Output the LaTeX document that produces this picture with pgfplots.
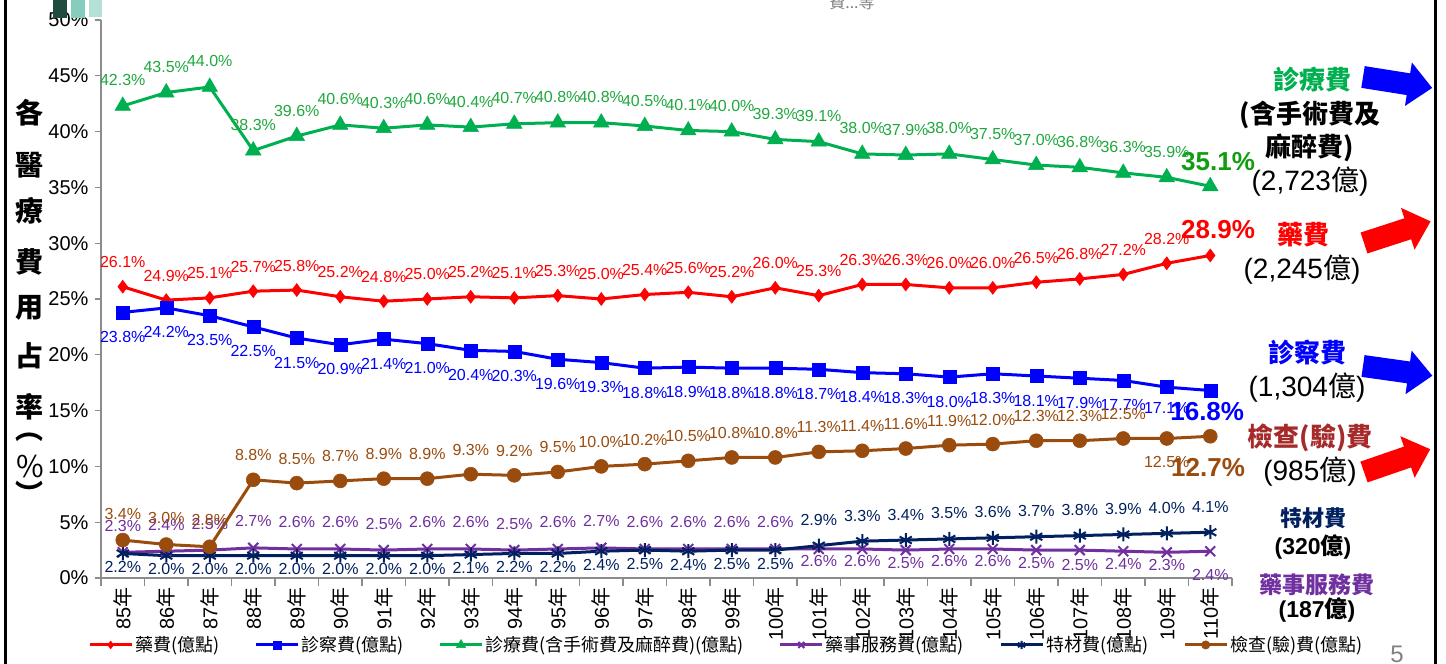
\documentclass[border=0pt]{standalone}
\usepackage{fontspec}
\setmainfont{Liberation Sans}
\newfontfamily\cjk{Noto Sans CJK TC}
\usepackage{pgfplots}
\usepackage{pgfplotstable}
\pgfplotsset{compat=1.18}

\definecolor{cRed}{HTML}{FF0000}
\definecolor{cBlue}{HTML}{0000FF}
\definecolor{cGreen}{HTML}{00B050}
\definecolor{cGreenL}{HTML}{1FA83E}
\definecolor{cGreenB}{HTML}{109E10}
\definecolor{cPurple}{HTML}{7030A0}
\definecolor{cNavy}{HTML}{002060}
\definecolor{cBrown}{HTML}{9A4C0E}
\definecolor{cMaroon}{HTML}{A52A2A}
\definecolor{cAxis}{HTML}{8C8C8C}
\definecolor{cGray}{HTML}{808080}
\definecolor{sqA}{HTML}{1E4D40}
\definecolor{sqB}{HTML}{86CDBE}
\definecolor{sqC}{HTML}{B4E1D6}

\newcommand{\fs}[1]{\fontsize{#1}{#1}\selectfont}
\newcommand{\barrow}[4]{%
  \begin{scope}[shift={(#1pt,#2pt)}, rotate=#3]
  \fill[#4] (0pt,-11pt) -- (46pt,-11pt) -- (46pt,-22pt) -- (70pt,0pt) -- (46pt,22pt) -- (46pt,11pt) -- (0pt,11pt) -- cycle;
  \end{scope}}

\pgfplotstableread{
x y dy lab
0 26.1 19 26.1\%
1 24.9 19 24.9\%
2 25.1 19 25.1\%
3 25.7 19 25.7\%
4 25.8 19 25.8\%
5 25.2 19 25.2\%
6 24.8 19 24.8\%
7 25.0 19 25.0\%
8 25.2 19 25.2\%
9 25.1 19 25.1\%
10 25.3 19 25.3\%
11 25.0 19 25.0\%
12 25.4 19 25.4\%
13 25.6 19 25.6\%
14 25.2 19 25.2\%
15 26.0 19 26.0\%
16 25.3 19 25.3\%
17 26.3 19 26.3\%
18 26.3 19 26.3\%
19 26.0 19 26.0\%
20 26.0 19 26.0\%
21 26.5 19 26.5\%
22 26.8 19 26.8\%
23 27.2 19 27.2\%
24 28.2 19 28.2\%
25 28.9 19 {}
}\tRed

\pgfplotstableread{
x y dy lab
0 23.8 -30 23.8\%
1 24.2 -30 24.2\%
2 23.5 -30 23.5\%
3 22.5 -30 22.5\%
4 21.5 -30 21.5\%
5 20.9 -30 20.9\%
6 21.4 -30 21.4\%
7 21.0 -30 21.0\%
8 20.4 -30 20.4\%
9 20.3 -30 20.3\%
10 19.6 -30 19.6\%
11 19.3 -30 19.3\%
12 18.8 -30 18.8\%
13 18.9 -30 18.9\%
14 18.8 -30 18.8\%
15 18.8 -30 18.8\%
16 18.7 -30 18.7\%
17 18.4 -30 18.4\%
18 18.3 -30 18.3\%
19 18.0 -30 18.0\%
20 18.3 -30 18.3\%
21 18.1 -30 18.1\%
22 17.9 -30 17.9\%
23 17.7 -30 17.7\%
24 17.1 -26 17.1\%
25 16.8 -30 {}
}\tBlue

\pgfplotstableread{
x y dy lab
0 42.3 20 42.3\%
1 43.5 20 43.5\%
2 44.0 20 44.0\%
3 38.3 20 38.3\%
4 39.6 20 39.6\%
5 40.6 20 40.6\%
6 40.3 20 40.3\%
7 40.6 20 40.6\%
8 40.4 20 40.4\%
9 40.7 20 40.7\%
10 40.8 20 40.8\%
11 40.8 20 40.8\%
12 40.5 20 40.5\%
13 40.1 20 40.1\%
14 40.0 20 40.0\%
15 39.3 20 39.3\%
16 39.1 20 39.1\%
17 38.0 20 38.0\%
18 37.9 20 37.9\%
19 38.0 20 38.0\%
20 37.5 20 37.5\%
21 37.0 20 37.0\%
22 36.8 20 36.8\%
23 36.3 20 36.3\%
24 35.9 20 35.9\%
25 35.1 20 {}
}\tGreen

\pgfplotstableread{
x y dy lab
0 2.3 21 2.3\%
1 2.4 21 2.4\%
2 2.5 21 2.5\%
3 2.7 21 2.7\%
4 2.6 21 2.6\%
5 2.6 21 2.6\%
6 2.5 21 2.5\%
7 2.6 21 2.6\%
8 2.6 21 2.6\%
9 2.5 21 2.5\%
10 2.6 21 2.6\%
11 2.7 21 2.7\%
12 2.6 21 2.6\%
13 2.6 21 2.6\%
14 2.6 21 2.6\%
15 2.6 21 2.6\%
16 2.6 -18 2.6\%
17 2.6 -18 2.6\%
18 2.5 -18 2.5\%
19 2.6 -18 2.6\%
20 2.6 -18 2.6\%
21 2.5 -18 2.5\%
22 2.5 -20 2.5\%
23 2.4 -18 2.4\%
24 2.3 -18 2.3\%
25 2.4 -29 2.4\%
}\tPurple

\pgfplotstableread{
x y dy lab
0 2.2 -19 2.2\%
1 2.0 -19 2.0\%
2 2.0 -19 2.0\%
3 2.0 -19 2.0\%
4 2.0 -19 2.0\%
5 2.0 -19 2.0\%
6 2.0 -19 2.0\%
7 2.0 -19 2.0\%
8 2.1 -19 2.1\%
9 2.2 -19 2.2\%
10 2.2 -19 2.2\%
11 2.4 -19 2.4\%
12 2.5 -19 2.5\%
13 2.4 -19 2.4\%
14 2.5 -19 2.5\%
15 2.5 -19 2.5\%
16 2.9 20 2.9\%
17 3.3 20 3.3\%
18 3.4 20 3.4\%
19 3.5 20 3.5\%
20 3.6 20 3.6\%
21 3.7 20 3.7\%
22 3.8 20 3.8\%
23 3.9 20 3.9\%
24 4.0 20 4.0\%
25 4.1 20 4.1\%
}\tNavy

\pgfplotstableread{
x y dy lab
0 3.4 21 3.4\%
1 3.0 21 3.0\%
2 2.8 21 2.8\%
3 8.8 19 8.8\%
4 8.5 19 8.5\%
5 8.7 19 8.7\%
6 8.9 19 8.9\%
7 8.9 19 8.9\%
8 9.3 19 9.3\%
9 9.2 19 9.2\%
10 9.5 19 9.5\%
11 10.0 19 10.0\%
12 10.2 19 10.2\%
13 10.5 19 10.5\%
14 10.8 19 10.8\%
15 10.8 19 10.8\%
16 11.3 19 11.3\%
17 11.4 19 11.4\%
18 11.6 19 11.6\%
19 11.9 19 11.9\%
20 12.0 19 12.0\%
21 12.3 19 12.3\%
22 12.3 19 12.3\%
23 12.5 19 12.5\%
24 12.5 -29 12.5\%
25 12.7 -29 {}
}\tBrown

\begin{document}
\begin{tikzpicture}
\useasboundingbox (0pt,0pt) rectangle (1446pt,664pt);
\fill[white] (0pt,0pt) rectangle (1446pt,664pt);

\begin{axis}[
  at={(101pt,86pt)}, anchor=south west,
  scale only axis, width=1131pt, height=558pt,
  xmin=-0.5, xmax=25.5, ymin=0, ymax=50,
  clip=false,
  axis x line*=bottom, axis y line*=left,
  axis line style={cAxis, line width=1.6pt},
  xtick={0,...,25},
  xticklabel={\pgfmathtruncatemacro\yy{\tick+85}\yy{\cjk 年}},
  xticklabel style={rotate=90, anchor=east, font=\fs{20}},
  major x tick style={draw=none},
  minor xtick={-0.5,0.5,...,25.5},
  minor x tick style={cAxis, line width=1.2pt},
  ytick={0,5,...,50},
  yticklabels={0\%,5\%,10\%,15\%,20\%,25\%,30\%,35\%,40\%,45\%,50\%},
  yticklabel style={font=\fs{20}, xshift=-3pt},
  y tick style={cAxis, line width=1.2pt},
  tick align=outside, major tick length=6pt, minor tick length=8pt,
  every axis plot/.append style={line width=3pt},
  nodes near coords={\pgfplotspointmeta},
  point meta=explicit symbolic,
  visualization depends on={\thisrow{dy}\as\dy},
  legend columns=6,
  legend style={at={(-0.0115,-0.12)}, anchor=west, draw=none, fill=none,
    inner sep=0pt, font=\cjk\fs{18},
    /tikz/every even column/.append style={column sep=33pt}},
  legend image code/.code={\draw[mark repeat=2,mark phase=2,#1,every mark/.append style={scale=0.6}] plot coordinates {(0pt,0pt) (21pt,0pt) (42pt,0pt)};},
]
\addplot[cRed, mark=diamond*, mark size=6.5pt, mark options={solid,line width=0.5pt},
  every node near coord/.append style={anchor=base, inner sep=0pt, yshift=\dy pt, text=cRed, font=\fs{16}}]
  table[x=x,y=y,meta=lab]{\tRed};
\addlegendentry{藥費(億點)}
\addplot[cBlue, mark=square*, mark size=6.5pt, mark options={solid,line width=0.5pt},
  every node near coord/.append style={anchor=base, inner sep=0pt, yshift=\dy pt, text=cBlue, font=\fs{16}}]
  table[x=x,y=y,meta=lab]{\tBlue};
\addlegendentry{診察費(億點)}
\addplot[cGreen, mark=triangle*, mark size=9pt, mark options={solid,line width=0.5pt},
  every node near coord/.append style={anchor=base, inner sep=0pt, yshift=\dy pt, text=cGreenL, font=\fs{16}}]
  table[x=x,y=y,meta=lab]{\tGreen};
\addlegendentry{診療費(含手術費及麻醉費)(億點)}
\addplot[cPurple, mark=x, mark size=7pt, mark options={solid,line width=2pt},
  every node near coord/.append style={anchor=base, inner sep=0pt, yshift=\dy pt, text=cPurple, font=\fs{16}}]
  table[x=x,y=y,meta=lab]{\tPurple};
\addlegendentry{藥事服務費(億點)}
\addplot[cNavy, mark=asterisk, mark size=7pt, mark options={solid,line width=2pt},
  every node near coord/.append style={anchor=base, inner sep=0pt, yshift=\dy pt, text=cNavy, font=\fs{16}}]
  table[x=x,y=y,meta=lab]{\tNavy};
\addlegendentry{特材費(億點)}
\addplot[cBrown, mark=*, mark size=7pt, mark options={solid,line width=0.5pt},
  every node near coord/.append style={anchor=base, inner sep=0pt, yshift=\dy pt, text=cBrown, font=\fs{16}}]
  table[x=x,y=y,meta=lab]{\tBrown};
\addlegendentry{檢查(驗)費(億點)}

\node[text=cGreenB, font=\bfseries\fs{26}] at (axis cs:25.18,37.3) {35.1\%};
\node[text=cRed, font=\bfseries\fs{26}] at (axis cs:25.18,31.2) {28.9\%};
\node[text=cBlue, font=\bfseries\fs{26}] at (axis cs:24.93,14.9) {16.8\%};
\node[text=cBrown, font=\bfseries\fs{26}] at (axis cs:24.95,9.86) {12.7\%};
\end{axis}

% decorations
\fill[sqA] (53pt,646pt) rectangle (67pt,664pt);
\fill[sqB] (71pt,646pt) rectangle (85pt,664pt);
\fill[sqC] (89pt,647pt) rectangle (102pt,664pt);
\draw[black, line width=3pt] (5pt,0pt) -- (5pt,664pt);
\draw[black, line width=3pt] (1435.5pt,0pt) -- (1435.5pt,664pt);
\node[text=cGray, font=\cjk\fs{16}, anchor=base] at (852pt,655pt) {費...等};
\node[text=cGray, font=\fs{24}, anchor=base] at (1397pt,1pt) {5};

% y label
\node[font=\cjk\bfseries\fs{28}] at (30pt,551pt) {各};
\node[font=\cjk\bfseries\fs{28}] at (30pt,499pt) {醫};
\node[font=\cjk\bfseries\fs{28}] at (30pt,453pt) {療};
\node[font=\cjk\bfseries\fs{28}] at (30pt,402pt) {費};
\node[font=\cjk\bfseries\fs{28}] at (30pt,356pt) {用};
\node[font=\cjk\bfseries\fs{28}] at (30pt,308pt) {占};
\node[font=\cjk\bfseries\fs{28}] at (30pt,257pt) {率};
\node[font=\cjk\bfseries\fs{28}] at (30pt,227pt) {︵};
\node[font=\cjk\fs{30}] at (30pt,197pt) {\%};
\node[font=\cjk\bfseries\fs{28}] at (30pt,171pt) {︶};

% right annotations
\node[text=cGreen, font=\cjk\bfseries\fs{26}] at (1312pt,584pt) {診療費};
\node[font=\cjk\bfseries\fs{26}] at (1310pt,549pt) {(含手術費及};
\node[font=\cjk\bfseries\fs{26}] at (1310pt,516pt) {麻醉費)};
\node[font=\fs{28}] at (1310pt,482pt) {(2,723{\cjk 億})};
\node[text=cRed, font=\cjk\bfseries\fs{26}] at (1303pt,429pt) {藥費};
\node[font=\fs{28}] at (1302pt,394pt) {(2,245{\cjk 億})};
\node[text=cBlue, font=\cjk\bfseries\fs{26}] at (1307pt,311pt) {診察費};
\node[font=\fs{28}] at (1307pt,276pt) {(1,304{\cjk 億})};
\node[text=cMaroon, font=\cjk\bfseries\fs{26}] at (1310pt,226pt) {檢查(驗)費};
\node[font=\fs{28}] at (1310pt,192pt) {(985{\cjk 億})};
\node[text=cNavy, font=\cjk\bfseries\fs{22}] at (1313pt,146pt) {特材費};
\node[font=\bfseries\fs{23}] at (1313pt,117pt) {(320{\cjk\bfseries 億})};
\node[text=cPurple, font=\cjk\bfseries\fs{23}] at (1317pt,79pt) {藥事服務費};
\node[font=\bfseries\fs{23}] at (1317pt,54pt) {(187{\cjk\bfseries 億})};

% block arrows
\barrow{1363}{587}{-9}{cBlue}
\barrow{1364}{421}{18}{cRed}
\barrow{1363}{298}{-8}{cBlue}
\barrow{1364}{192}{19}{cRed}
\end{tikzpicture}
\end{document}
